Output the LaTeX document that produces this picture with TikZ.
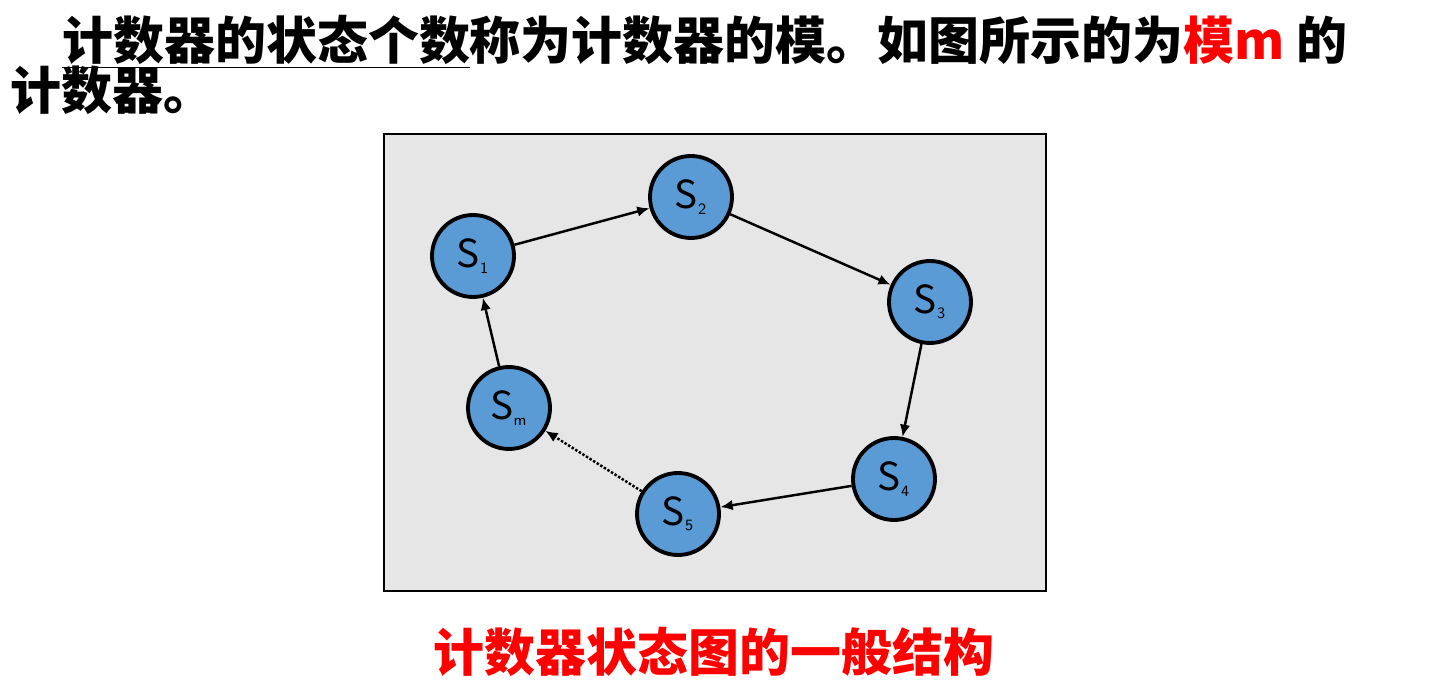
\documentclass[tikz,border=0pt]{standalone}
\usepackage{fontspec}
\setmainfont{Noto Sans CJK SC}
\newfontfamily\cjk{Noto Sans CJK SC}
\usetikzlibrary{arrows.meta}
\definecolor{stblue}{HTML}{5B9BD5}
\definecolor{boxgray}{HTML}{E6E6E6}
\begin{document}
\begin{tikzpicture}[x=0.02cm,y=-0.02cm,
	ststyle/.style={circle, draw=black, line width=2.2pt, fill=stblue, minimum size=1.64cm, inner sep=0pt, font=\fontsize{22}{22}\selectfont},
	edge/.style={line width=1.4pt, -{Latex[length=7pt,width=6pt]}},
	txt/.style={font=\cjk\bfseries\fontsize{29}{30}\selectfont, inner sep=0pt, anchor=base west}]
	\useasboundingbox (0,0) rectangle (1451,692);
	\draw[fill=boxgray, line width=0.8pt] (384,134) rectangle (1046,591);
	\node[txt] (l1) at (62,60) {\underline{计数器的状态个数}称为计数器的模。如图所示的为\textcolor{red}{模m} 的};
	\node[txt] (l2) at (10,110) {计数器。};
	\node (1) at (473,256) [ststyle] {S$_{\textsf{\small 1}}$};
	\node (2) at (691,197) [ststyle] {S$_{\textsf{\small 2}}$};
	\node (3) at (930,302) [ststyle] {S$_{\textsf{\small 3}}$};
	\node (4) at (894,479) [ststyle] {S$_{\textsf{\small 4}}$};
	\node (5) at (678,514) [ststyle] {S$_{\textsf{\small 5}}$};
	\node (m) at (509,408) [ststyle] {S$_{\textsf{\small m}}$};
	\draw[edge] (1)--(2);
	\draw[edge] (2)--(3);
	\draw[edge] (3)--(4);
	\draw[edge] (4)--(5);
	\draw[edge, densely dotted] (5)--(m);
	\draw[edge] (m)--(1);
	\node[font=\cjk\bfseries\fontsize{29}{30}\selectfont, text=red] (cap) at (714,652) {计数器状态图的一般结构};
\end{tikzpicture}
\end{document}
